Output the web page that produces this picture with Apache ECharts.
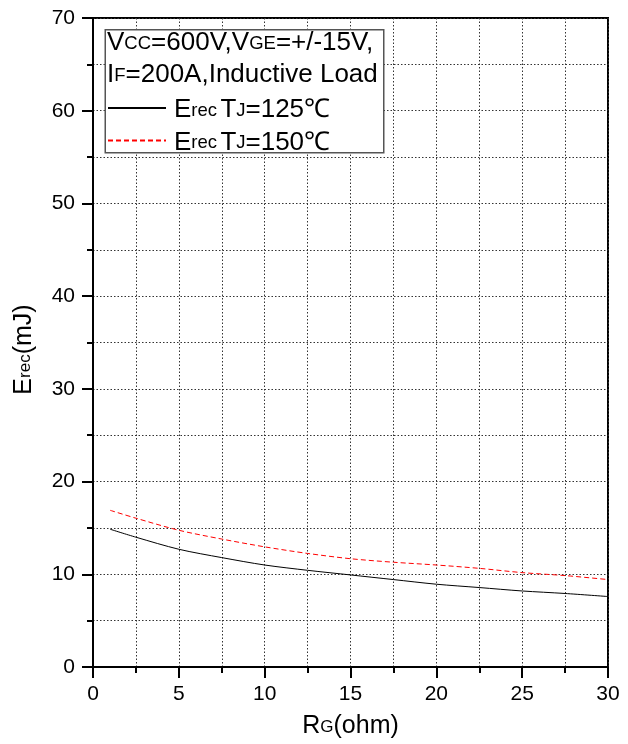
<!DOCTYPE html>
<html><head><meta charset="utf-8">
<script src="https://cdn.jsdelivr.net/npm/echarts@6/dist/echarts.min.js"></script>
<style>html,body{margin:0;padding:0;background:#fff}#c{width:628px;height:744px}</style>
</head><body><div id="c"></div>
<script>
const rg = [1, 2.5, 5, 7.5, 10, 12.5, 15, 17.5, 20, 22.5, 25, 27.5, 30];
const erec125 = [14.86, 14.0, 12.7, 11.8, 11.0, 10.43, 9.93, 9.43, 8.93, 8.57, 8.2, 7.93, 7.6];
const erec150 = [16.9, 16.05, 14.75, 13.8, 12.96, 12.25, 11.68, 11.3, 11.0, 10.64, 10.18, 9.86, 9.43];
const seriesNames = ['Erec TJ=125℃', 'Erec TJ=150℃'];
const legendRich = {
  'Erec TJ=125℃': '{b|E}{s|rec} {b|T}{s|J}{b|=125℃}',
  'Erec TJ=150℃': '{b|E}{s|rec} {b|T}{s|J}{b|=150℃}'
};
const headerLines = ['{b|V}{s|CC}{b|=600V,V}{s|GE}{b|=+/-15V,}', '{b|I}{s|F}{b|=200A,Inductive Load}'];
const xName = '{b|R}{s|G}{b|(ohm)}';
const yName = '{b|E}{s|rec}{b|(mJ)}';

const FF = '"Liberation Sans", Arial, sans-serif';
const bigRich = {
  b: {fontFamily: FF, fontSize: 26, lineHeight: 30, verticalAlign: 'bottom', color: '#000'},
  s: {fontFamily: FF, fontSize: 18.5, lineHeight: 24, verticalAlign: 'bottom', padding: [0, 0, 3, 0], color: '#000'}
};
const nameRich = {
  b: {fontFamily: FF, fontSize: 25, lineHeight: 28, verticalAlign: 'bottom', color: '#000'},
  s: {fontFamily: FF, fontSize: 17, lineHeight: 22, verticalAlign: 'bottom', padding: [0, 0, 3, 0], color: '#000'}
};
const gridLine = {show: true, lineStyle: {color: '#333', type: [1.5, 2], width: 1}};

const chart = echarts.init(document.getElementById('c'), null, {renderer: 'canvas'});
chart.setOption({
  backgroundColor: '#fff',
  animation: false,
  grid: {left: 93, right: 20, top: 18, bottom: 71, show: true, borderColor: '#000', borderWidth: 2, backgroundColor: 'transparent'},
  xAxis: {
    type: 'value', min: 0, max: 30, interval: 5,
    name: xName, nameLocation: 'middle', nameGap: 44,
    nameTextStyle: {rich: nameRich},
    axisLine: {show: true, lineStyle: {color: '#000', width: 2}},
    axisTick: {show: true, inside: false, length: 11, lineStyle: {color: '#000', width: 2}},
    minorTick: {show: true, splitNumber: 2, length: 6, lineStyle: {color: '#000', width: 2}},
    axisLabel: {color: '#000', fontSize: 21, fontFamily: FF, margin: 17},
    splitLine: gridLine,
    minorSplitLine: gridLine
  },
  yAxis: {
    type: 'value', min: 0, max: 70, interval: 10,
    name: yName, nameLocation: 'middle', nameGap: 56, nameRotate: 90,
    nameTextStyle: {rich: nameRich, padding: [0, 14, 0, 0]},
    axisLine: {show: true, lineStyle: {color: '#000', width: 2}},
    axisTick: {show: true, inside: false, length: 11, lineStyle: {color: '#000', width: 2}},
    minorTick: {show: true, splitNumber: 2, length: 6, lineStyle: {color: '#000', width: 2}},
    axisLabel: {color: '#000', fontSize: 21, fontFamily: FF, margin: 18},
    splitLine: gridLine,
    minorSplitLine: gridLine
  },
  legend: {
    orient: 'vertical', left: 107, top: 97, itemGap: 6.5, padding: 0,
    itemWidth: 58, itemHeight: 4,
    data: seriesNames,
    formatter: n => legendRich[n],
    textStyle: {rich: bigRich, padding: [0, 0, 0, 3]},
    itemStyle: {opacity: 0},
    selectedMode: false,
    z: 10
  },
  graphic: [
    {type: 'rect', left: 104.5, top: 29, z: 5, shape: {width: 278.5, height: 123},
     style: {fill: '#fff', stroke: '#555', lineWidth: 1.5}},
    {type: 'text', left: 107, top: 30, z: 6, style: {text: headerLines[0], rich: bigRich}},
    {type: 'text', left: 107, top: 62, z: 6, style: {text: headerLines[1], rich: bigRich}}
  ],
  series: [
    {name: seriesNames[0], type: 'line', symbol: 'none', smooth: 0.3,
     data: rg.map((x, i) => [x, erec125[i]]),
     lineStyle: {color: '#000', width: 1}, itemStyle: {color: '#000'}},
    {name: seriesNames[1], type: 'line', symbol: 'none', smooth: 0.3,
     data: rg.map((x, i) => [x, erec150[i]]),
     lineStyle: {color: '#ff0000', width: 1, type: [5, 3]}, itemStyle: {color: '#ff0000'}}
  ]
});
</script></body></html>
